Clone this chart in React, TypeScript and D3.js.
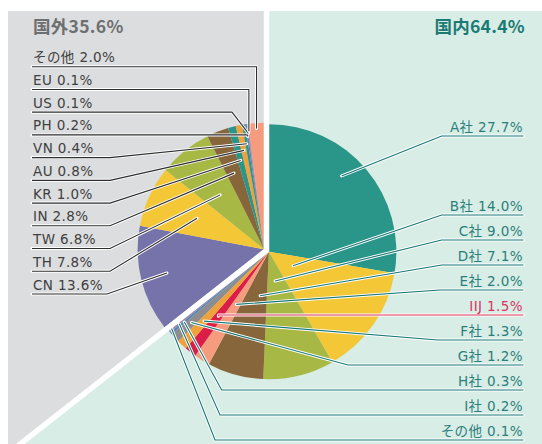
import React from 'react';
import * as d3 from 'd3';

// ---- data ----
const domesticNames = ['A社', 'B社', 'C社', 'D社', 'E社', 'IIJ', 'F社', 'G社', 'H社', 'I社', 'その他'];
const domesticValues = [27.7, 14.0, 9.0, 7.1, 2.0, 1.5, 1.3, 1.2, 0.3, 0.2, 0.1];
const overseasNames = ['CN', 'TH', 'TW', 'IN', 'KR', 'AU', 'VN', 'PH', 'US', 'EU', 'その他'];
const overseasValues = [13.6, 7.8, 6.8, 2.8, 1.0, 0.8, 0.4, 0.2, 0.1, 0.1, 2.0];
const domesticTitle = '国内';
const overseasTitle = '国外';

// ---- styles / layout ----
const domesticColors = ['#2a9589', '#f3c736', '#a8b845', '#87663b', '#f59b7e', '#dc1d48', '#f0a23a', '#8d8d90', '#5a82b5', '#7f8aa8', '#e0659b'];
const overseasColors = ['#7573a9', '#f3c736', '#a8b845', '#87663b', '#2b958a', '#f0a23a', '#2b958a', '#5a82b5', '#8d8d90', '#e0659b', '#f59b7e'];
// leader anchor: [radius, fraction within slice]
const domesticAnchor: [number, number][] = [[105, 0.44], [28, 0.41], [30, 0.55], [45, 0.34], [62, 0.5], [82, 0.5], [95, 0.5], [105, 0.5], [110, 0.5], [115, 0.5], [124, 0.5]];
const domesticKnee: (number | null)[] = [441.7, 441.7, 441.7, 441.7, 440, null, 438, 348, 221.7, 220, 215];
const overseasAnchor: [number, number][] = [[100, 0.5], [74, 0.5], [70, 0.5], [82, 0.5], [92, 0.5], [101, 0.5], [107, 0.5], [114, 0.5], [117, 0.5], [119, 0.5], [121, 0.5]];
const overseasKnee: (number | null)[] = [107, 110, 110, 110, 110, 110, 110, null, 232, null, null];

const W = 542, H = 444;
const J: [number, number] = [266.5, 250.5];
const TOP = 11, LEFT = 8;
const R_DOM = 127.5, R_OVS = 126.5;
const EXPLODE = 2.6;
const LABEL_FONT = "'DejaVu Sans', 'Noto Sans CJK JP', sans-serif";
const TITLE_FONT = "'Noto Sans CJK JP', 'Noto Sans', sans-serif";
const TEAL_TEXT = '#2b7f7a';
const TEAL_LINE = '#167674';
const RED = '#d9345e';
const DARK = '#404040';

const fmt = d3.format('.1f');

export default function App() {
  const domTotal = d3.sum(domesticValues);
  const ovsTotal = d3.sum(overseasValues);
  const split = (domTotal / (domTotal + ovsTotal)) * 2 * Math.PI;

  const domArcs = d3.pie<number>().sort(null).startAngle(0).endAngle(split)(domesticValues);
  const ovsArcs = d3.pie<number>().sort(null).startAngle(split).endAngle(2 * Math.PI)(overseasValues);

  const dir = (a: number): [number, number] => [Math.sin(a), -Math.cos(a)];
  const dMid = split / 2;
  const oMid = (split + 2 * Math.PI) / 2;
  const dC: [number, number] = [J[0] + EXPLODE * dir(dMid)[0], J[1] + EXPLODE * dir(dMid)[1]];
  const oC: [number, number] = [J[0] + EXPLODE * dir(oMid)[0], J[1] + EXPLODE * dir(oMid)[1]];

  const arcD = d3.arc<d3.PieArcDatum<number>>().innerRadius(0).outerRadius(R_DOM);
  const arcO = d3.arc<d3.PieArcDatum<number>>().innerRadius(0).outerRadius(R_OVS);

  // diagonal divider
  const bd = dir(split);
  const tB = (H - J[1]) / bd[1];
  const diagEnd: [number, number] = [J[0] + bd[0] * tB * 1.05, J[1] + bd[1] * tB * 1.05];
  const grayPoly = [[LEFT, TOP], [J[0], TOP], J, [J[0] + bd[0] * tB, H], [LEFT, H]];

  const line = d3.line();

  const rightUnderY = (i: number) => (i === 0 ? 136 : 215 + (i - 1) * 25);
  const leftUnderY = (k: number) => 66.7 + k * 22.73;
  const RIGHT_X = 523.5;
  const LEFT_X = 32;

  const domLeaders = domArcs.map((a, i) => {
    const [r, t] = domesticAnchor[i];
    const ang = a.startAngle + t * (a.endAngle - a.startAngle);
    const p: [number, number] = [dC[0] + r * Math.sin(ang), dC[1] - r * Math.cos(ang)];
    const uy = rightUnderY(i);
    const kx = domesticKnee[i] ?? p[0];
    const pts: [number, number][] = [p, [kx, uy], [RIGHT_X, uy]];
    return { pts, uy, i };
  });

  const ovsLeaders = ovsArcs.map((a, i) => {
    const [r, t] = overseasAnchor[i];
    const ang = a.startAngle + t * (a.endAngle - a.startAngle);
    const p: [number, number] = [oC[0] + r * Math.sin(ang), oC[1] - r * Math.cos(ang)];
    const k = overseasValues.length - 1 - i;
    const uy = leftUnderY(k);
    const kx = overseasKnee[i] ?? p[0];
    const pts: [number, number][] = [p, [kx, uy], [LEFT_X, uy]];
    return { pts, uy, i };
  });

  return (
    <svg width={W} height={H} style={{ position: 'absolute', left: 0, top: 0 }}>
      <rect x={0} y={0} width={W} height={H} fill="#ffffff" />
      <rect x={LEFT} y={TOP} width={W - LEFT} height={H - TOP} fill="#d8ede6" />
      <polygon points={grayPoly.map((p) => p.join(',')).join(' ')} fill="#dcdddf" />

      <g transform={`translate(${oC[0]},${oC[1]})`}>
        {ovsArcs.map((a, i) => (
          <path key={i} d={arcO(a) || ''} fill={overseasColors[i]} />
        ))}
      </g>
      <g transform={`translate(${dC[0]},${dC[1]})`}>
        {domArcs.map((a, i) => (
          <path key={i} d={arcD(a) || ''} fill={domesticColors[i]} />
        ))}
      </g>

      <path d={line([[J[0], TOP - 1], J, diagEnd]) || ''} stroke="#ffffff" strokeWidth={5.5} fill="none" strokeLinejoin="miter" />

      {ovsLeaders.map((l) => (
        <g key={'ol' + l.i}>
          <path d={line(l.pts) || ''} fill="none" stroke="#ffffff" strokeWidth={3} strokeLinecap="round" strokeLinejoin="round" />
          <path d={line(l.pts) || ''} fill="none" stroke="#2e2e2e" strokeWidth={1.1} />
        </g>
      ))}
      {domLeaders.map((l) => (
        <g key={'dl' + l.i}>
          <path d={line(l.pts) || ''} fill="none" stroke="#ffffff" strokeWidth={3} strokeLinecap="round" strokeLinejoin="round" />
          <path d={line(l.pts) || ''} fill="none" stroke={domesticNames[l.i] === 'IIJ' ? RED : TEAL_LINE} strokeWidth={1.1} />
        </g>
      ))}

      {ovsLeaders.map((l) => (
        <text key={'ot' + l.i} x={LEFT_X + 1} y={l.uy - 4.5} fontSize={13.5} fill={DARK} letterSpacing={0.4} fontFamily={LABEL_FONT}>
          {`${overseasNames[l.i]} ${fmt(overseasValues[l.i])}%`}
        </text>
      ))}
      {domLeaders.map((l) => (
        <text key={'dt' + l.i} x={RIGHT_X - 0.5} y={l.uy - 4.5} fontSize={13.5} textAnchor="end" letterSpacing={0.4} fontFamily={LABEL_FONT}
          fill={domesticNames[l.i] === 'IIJ' ? RED : TEAL_TEXT}>
          {`${domesticNames[l.i]} ${fmt(domesticValues[l.i])}%`}
        </text>
      ))}

      <text x={33} y={33} fontSize={17.5} fontWeight={700} fill="#6e6f71" fontFamily={TITLE_FONT} letterSpacing={0.3}>{`${overseasTitle}${fmt(ovsTotal)}%`}</text>
      <text x={525} y={33} fontSize={17.5} fontWeight={700} fill="#1b7a73" textAnchor="end" fontFamily={TITLE_FONT} letterSpacing={0.3}>{`${domesticTitle}${fmt(domTotal)}%`}</text>
    </svg>
  );
}
